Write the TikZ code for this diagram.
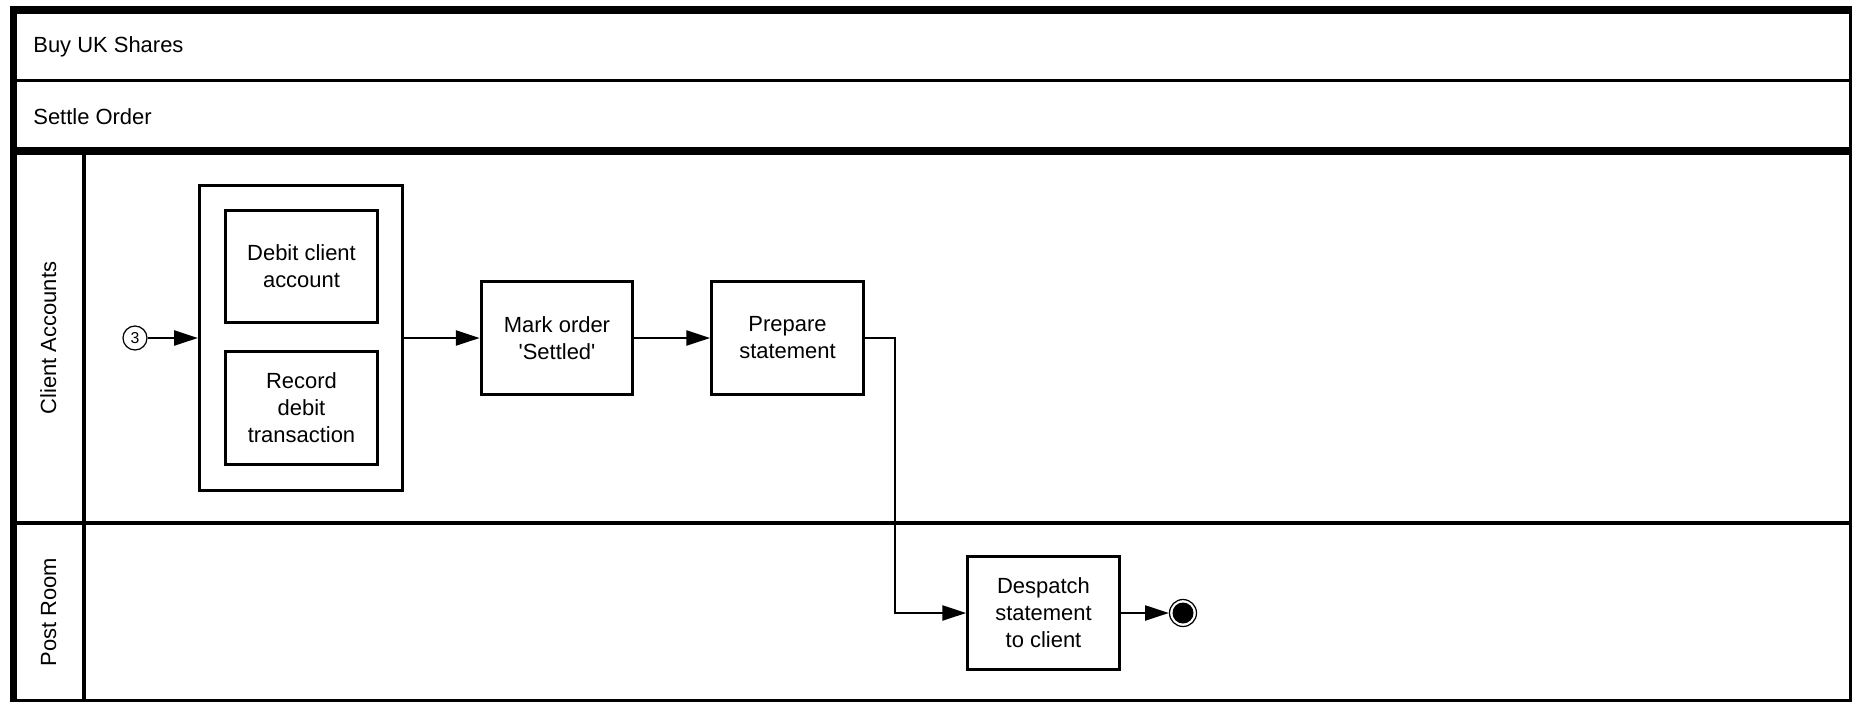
\documentclass[tikz,border=0pt]{standalone}
\usepackage{fontspec}
\setmainfont{Liberation Sans}
\usetikzlibrary{arrows.meta}

\begin{document}
\begin{tikzpicture}[x=0.02cm,y=-0.02cm,
    font=\fontsize{12.5}{15.4}\selectfont,
    task/.style={draw,line width=1.8pt,align=center,inner sep=0pt,
      minimum width=3.03cm,minimum height=2.25cm},
    flow/.style={line width=1.25pt,-{Triangle[length=13.5pt,width=8.5pt]}},
    lanetitle/.style={rotate=90,anchor=base}]
	% 设置线宽
	\def\thickLine{4.5pt}
	\def\thinLine{1.8pt}
	% 设置页面大小
	\clip (0,0) rectangle (1852,701);

	% 绘制外框和分隔线
	\draw[line width=\thickLine] (13.5,703) -- (13.5,10) -- (1853,10) -- (1853,703) -- cycle;
	\draw[line width=\thinLine] (13.5,80.5) -- (1853,80.5);
	\draw[line width=\thickLine] (13.5,151) -- (1853,151);
	\draw[line width=\thinLine] (84,151) -- (84,703);
	\draw[line width=\thinLine] (13.5,523) -- (1853,523);

	% 标题和泳道名称
	\node[anchor=base west,inner sep=0pt] (process) at (33,52.5) {Buy UK Shares};
	\node[anchor=base west,inner sep=0pt] (subprocess) at (33,124) {Settle Order};
	\node[lanetitle] (laneOne) at (56,338) {Client Accounts};
	\node[lanetitle] (laneTwo) at (56,612) {Post Room};

	% 绘制活动
	\node[circle,draw,line width=0.7pt,inner sep=0pt,minimum size=0.48cm,
	  font=\fontsize{9}{10}\selectfont] (start) at (135,338) {3};
	\node[draw,line width=1.8pt,minimum width=4.06cm,minimum height=6.1cm] (group) at (301,338) {};
	\node[task] (debit) at (301.5,266.5) {Debit client\\account};
	\node[task] (record) at (301.5,408) {Record\\debit\\transaction};
	\node[task] (mark) at (557,338) {Mark order\\\textquotesingle Settled\textquotesingle};
	\node[task] (prepare) at (787.5,338) {Prepare\\statement};
	\node[task] (despatch) at (1043.5,613) {Despatch\\statement\\to client};
	\node[circle,draw,line width=0.7pt,inner sep=0pt,minimum size=0.54cm,
	  path picture={\fill (path picture bounding box.center) circle (0.21cm);}] (end) at (1183,613) {};
	\coordinate (bend) at (895,338);

	% 绘制连线
	\draw[flow] (start) -- (group);
	\draw[flow] (group) -- (mark);
	\draw[flow] (mark) -- (prepare);
	\draw[flow] (prepare) -- (bend) |- (despatch);
	\draw[flow] (despatch) -- (end);
\end{tikzpicture}
\end{document}
